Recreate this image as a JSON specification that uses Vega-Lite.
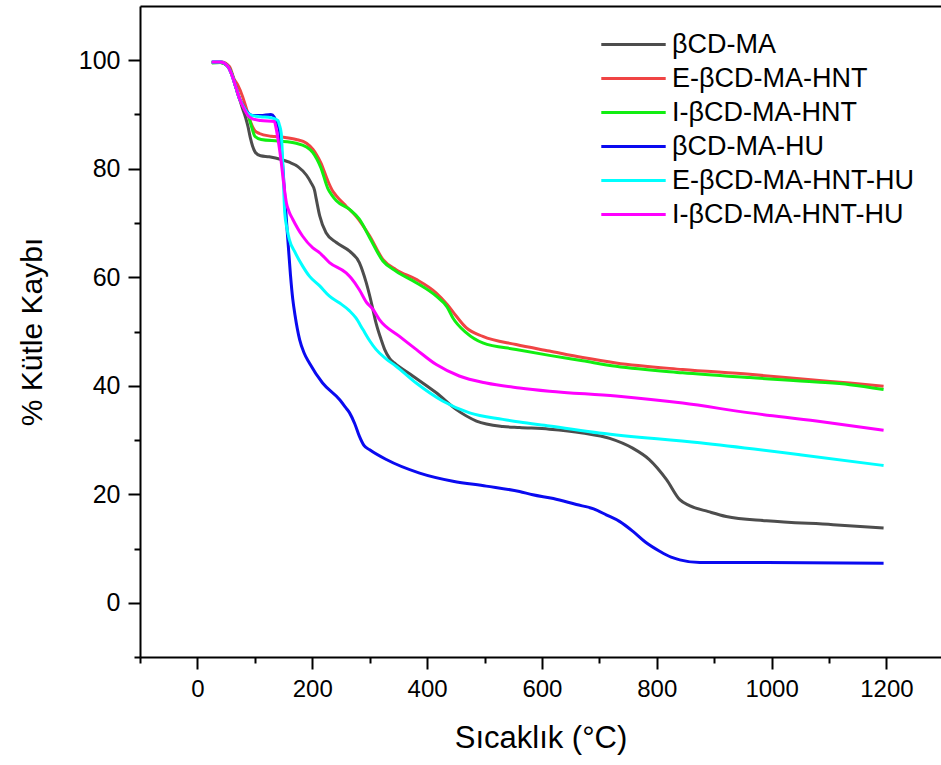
{
  "$schema": "https://vega.github.io/schema/vega-lite/v6.json",
  "width": 801,
  "height": 651,
  "autosize": {"type": "none"},
  "padding": {"left": 140, "top": 6, "right": 0, "bottom": 108},
  "background": "white",
  "config": {
    "view": {"stroke": null},
    "font": "Liberation Sans",
    "axis": {"grid": false, "domainColor": "black", "domainWidth": 2, "tickColor": "black", "tickWidth": 2, "labelColor": "black", "titleColor": "black", "labelFont": "Liberation Sans", "titleFont": "Liberation Sans", "titleFontWeight": "normal", "labelFlush": false, "labelOverlap": false}
  },
  "datasets": {
    "tga": [
      {"series": "βCD-MA", "temp": 25, "mass": 99.6},
      {"series": "βCD-MA", "temp": 40, "mass": 99.6},
      {"series": "βCD-MA", "temp": 52, "mass": 99.0},
      {"series": "βCD-MA", "temp": 60, "mass": 97.4},
      {"series": "βCD-MA", "temp": 67, "mass": 95.0},
      {"series": "βCD-MA", "temp": 73, "mass": 93.0},
      {"series": "βCD-MA", "temp": 78, "mass": 91.3},
      {"series": "βCD-MA", "temp": 84, "mass": 89.4},
      {"series": "βCD-MA", "temp": 88, "mass": 87.8},
      {"series": "βCD-MA", "temp": 92, "mass": 85.8},
      {"series": "βCD-MA", "temp": 96, "mass": 84.2},
      {"series": "βCD-MA", "temp": 101, "mass": 83.0},
      {"series": "βCD-MA", "temp": 110, "mass": 82.4},
      {"series": "βCD-MA", "temp": 125, "mass": 82.2},
      {"series": "βCD-MA", "temp": 146, "mass": 81.7},
      {"series": "βCD-MA", "temp": 160, "mass": 81.2},
      {"series": "βCD-MA", "temp": 175, "mass": 80.4},
      {"series": "βCD-MA", "temp": 190, "mass": 78.8},
      {"series": "βCD-MA", "temp": 198, "mass": 77.4},
      {"series": "βCD-MA", "temp": 204, "mass": 76.0},
      {"series": "βCD-MA", "temp": 207, "mass": 74.4},
      {"series": "βCD-MA", "temp": 213, "mass": 71.3},
      {"series": "βCD-MA", "temp": 224, "mass": 68.2},
      {"series": "βCD-MA", "temp": 242, "mass": 66.4},
      {"series": "βCD-MA", "temp": 265, "mass": 64.8},
      {"series": "βCD-MA", "temp": 282, "mass": 62.7},
      {"series": "βCD-MA", "temp": 294, "mass": 59.0},
      {"series": "βCD-MA", "temp": 303, "mass": 55.3},
      {"series": "βCD-MA", "temp": 311, "mass": 51.6},
      {"series": "βCD-MA", "temp": 320, "mass": 48.5},
      {"series": "βCD-MA", "temp": 326, "mass": 46.7},
      {"series": "βCD-MA", "temp": 335, "mass": 45.0},
      {"series": "βCD-MA", "temp": 343, "mass": 44.2},
      {"series": "βCD-MA", "temp": 375, "mass": 41.8},
      {"series": "βCD-MA", "temp": 416, "mass": 38.7},
      {"series": "βCD-MA", "temp": 451, "mass": 35.6},
      {"series": "βCD-MA", "temp": 486, "mass": 33.5},
      {"series": "βCD-MA", "temp": 532, "mass": 32.5},
      {"series": "βCD-MA", "temp": 561, "mass": 32.3},
      {"series": "βCD-MA", "temp": 613, "mass": 32.0},
      {"series": "βCD-MA", "temp": 671, "mass": 31.3},
      {"series": "βCD-MA", "temp": 718, "mass": 30.3},
      {"series": "βCD-MA", "temp": 758, "mass": 28.5},
      {"series": "βCD-MA", "temp": 787, "mass": 26.4},
      {"series": "βCD-MA", "temp": 817, "mass": 22.7},
      {"series": "βCD-MA", "temp": 840, "mass": 19.0},
      {"series": "βCD-MA", "temp": 857, "mass": 17.9},
      {"series": "βCD-MA", "temp": 890, "mass": 16.8},
      {"series": "βCD-MA", "temp": 921, "mass": 15.9},
      {"series": "βCD-MA", "temp": 991, "mass": 15.1},
      {"series": "βCD-MA", "temp": 1107, "mass": 14.4},
      {"series": "βCD-MA", "temp": 1195, "mass": 13.8},

      {"series": "E-βCD-MA-HNT", "temp": 25, "mass": 99.6},
      {"series": "E-βCD-MA-HNT", "temp": 42, "mass": 99.7},
      {"series": "E-βCD-MA-HNT", "temp": 56, "mass": 98.8},
      {"series": "E-βCD-MA-HNT", "temp": 64, "mass": 96.5},
      {"series": "E-βCD-MA-HNT", "temp": 70, "mass": 95.5},
      {"series": "E-βCD-MA-HNT", "temp": 79, "mass": 93.2},
      {"series": "E-βCD-MA-HNT", "temp": 85, "mass": 91.2},
      {"series": "E-βCD-MA-HNT", "temp": 93, "mass": 88.5},
      {"series": "E-βCD-MA-HNT", "temp": 100, "mass": 87.0},
      {"series": "E-βCD-MA-HNT", "temp": 108, "mass": 86.5},
      {"series": "E-βCD-MA-HNT", "temp": 128, "mass": 86.0},
      {"series": "E-βCD-MA-HNT", "temp": 150, "mass": 85.8},
      {"series": "E-βCD-MA-HNT", "temp": 172, "mass": 85.4},
      {"series": "E-βCD-MA-HNT", "temp": 190, "mass": 84.7},
      {"series": "E-βCD-MA-HNT", "temp": 201, "mass": 83.6},
      {"series": "E-βCD-MA-HNT", "temp": 208, "mass": 82.5},
      {"series": "E-βCD-MA-HNT", "temp": 215, "mass": 81.1},
      {"series": "E-βCD-MA-HNT", "temp": 227, "mass": 77.8},
      {"series": "E-βCD-MA-HNT", "temp": 235, "mass": 76.0},
      {"series": "E-βCD-MA-HNT", "temp": 242, "mass": 75.0},
      {"series": "E-βCD-MA-HNT", "temp": 259, "mass": 73.1},
      {"series": "E-βCD-MA-HNT", "temp": 276, "mass": 71.3},
      {"series": "E-βCD-MA-HNT", "temp": 300, "mass": 67.6},
      {"series": "E-βCD-MA-HNT", "temp": 323, "mass": 63.3},
      {"series": "E-βCD-MA-HNT", "temp": 346, "mass": 61.4},
      {"series": "E-βCD-MA-HNT", "temp": 381, "mass": 59.6},
      {"series": "E-βCD-MA-HNT", "temp": 416, "mass": 57.1},
      {"series": "E-βCD-MA-HNT", "temp": 435, "mass": 55.0},
      {"series": "E-βCD-MA-HNT", "temp": 451, "mass": 52.8},
      {"series": "E-βCD-MA-HNT", "temp": 468, "mass": 50.7},
      {"series": "E-βCD-MA-HNT", "temp": 497, "mass": 49.1},
      {"series": "E-βCD-MA-HNT", "temp": 555, "mass": 47.6},
      {"series": "E-βCD-MA-HNT", "temp": 613, "mass": 46.4},
      {"series": "E-βCD-MA-HNT", "temp": 671, "mass": 45.2},
      {"series": "E-βCD-MA-HNT", "temp": 729, "mass": 44.2},
      {"series": "E-βCD-MA-HNT", "temp": 845, "mass": 43.0},
      {"series": "E-βCD-MA-HNT", "temp": 962, "mass": 42.1},
      {"series": "E-βCD-MA-HNT", "temp": 1078, "mass": 41.0},
      {"series": "E-βCD-MA-HNT", "temp": 1136, "mass": 40.5},
      {"series": "E-βCD-MA-HNT", "temp": 1195, "mass": 39.9},

      {"series": "I-βCD-MA-HNT", "temp": 25, "mass": 99.5},
      {"series": "I-βCD-MA-HNT", "temp": 40, "mass": 99.6},
      {"series": "I-βCD-MA-HNT", "temp": 52, "mass": 99.0},
      {"series": "I-βCD-MA-HNT", "temp": 60, "mass": 97.5},
      {"series": "I-βCD-MA-HNT", "temp": 67, "mass": 95.0},
      {"series": "I-βCD-MA-HNT", "temp": 73, "mass": 93.0},
      {"series": "I-βCD-MA-HNT", "temp": 80, "mass": 91.5},
      {"series": "I-βCD-MA-HNT", "temp": 88, "mass": 90.0},
      {"series": "I-βCD-MA-HNT", "temp": 95, "mass": 87.5},
      {"series": "I-βCD-MA-HNT", "temp": 100, "mass": 86.0},
      {"series": "I-βCD-MA-HNT", "temp": 111, "mass": 85.4},
      {"series": "I-βCD-MA-HNT", "temp": 140, "mass": 85.1},
      {"series": "I-βCD-MA-HNT", "temp": 172, "mass": 84.7},
      {"series": "I-βCD-MA-HNT", "temp": 190, "mass": 84.0},
      {"series": "I-βCD-MA-HNT", "temp": 201, "mass": 83.0},
      {"series": "I-βCD-MA-HNT", "temp": 208, "mass": 81.8},
      {"series": "I-βCD-MA-HNT", "temp": 215, "mass": 80.2},
      {"series": "I-βCD-MA-HNT", "temp": 227, "mass": 76.4},
      {"series": "I-βCD-MA-HNT", "temp": 235, "mass": 75.0},
      {"series": "I-βCD-MA-HNT", "temp": 242, "mass": 74.1},
      {"series": "I-βCD-MA-HNT", "temp": 265, "mass": 72.5},
      {"series": "I-βCD-MA-HNT", "temp": 282, "mass": 70.7},
      {"series": "I-βCD-MA-HNT", "temp": 300, "mass": 67.3},
      {"series": "I-βCD-MA-HNT", "temp": 323, "mass": 63.0},
      {"series": "I-βCD-MA-HNT", "temp": 346, "mass": 61.1},
      {"series": "I-βCD-MA-HNT", "temp": 381, "mass": 59.0},
      {"series": "I-βCD-MA-HNT", "temp": 416, "mass": 56.5},
      {"series": "I-βCD-MA-HNT", "temp": 435, "mass": 54.5},
      {"series": "I-βCD-MA-HNT", "temp": 445, "mass": 52.5},
      {"series": "I-βCD-MA-HNT", "temp": 468, "mass": 49.8},
      {"series": "I-βCD-MA-HNT", "temp": 497, "mass": 47.9},
      {"series": "I-βCD-MA-HNT", "temp": 555, "mass": 46.7},
      {"series": "I-βCD-MA-HNT", "temp": 613, "mass": 45.6},
      {"series": "I-βCD-MA-HNT", "temp": 671, "mass": 44.6},
      {"series": "I-βCD-MA-HNT", "temp": 729, "mass": 43.6},
      {"series": "I-βCD-MA-HNT", "temp": 845, "mass": 42.4},
      {"series": "I-βCD-MA-HNT", "temp": 962, "mass": 41.5},
      {"series": "I-βCD-MA-HNT", "temp": 1078, "mass": 40.7},
      {"series": "I-βCD-MA-HNT", "temp": 1136, "mass": 40.2},
      {"series": "I-βCD-MA-HNT", "temp": 1195, "mass": 39.3},

      {"series": "βCD-MA-HU", "temp": 25, "mass": 99.7},
      {"series": "βCD-MA-HU", "temp": 40, "mass": 99.7},
      {"series": "βCD-MA-HU", "temp": 52, "mass": 99.0},
      {"series": "βCD-MA-HU", "temp": 60, "mass": 97.3},
      {"series": "βCD-MA-HU", "temp": 67, "mass": 95.0},
      {"series": "βCD-MA-HU", "temp": 73, "mass": 93.0},
      {"series": "βCD-MA-HU", "temp": 80, "mass": 91.5},
      {"series": "βCD-MA-HU", "temp": 88, "mass": 90.3},
      {"series": "βCD-MA-HU", "temp": 96, "mass": 89.8},
      {"series": "βCD-MA-HU", "temp": 110, "mass": 89.8},
      {"series": "βCD-MA-HU", "temp": 128, "mass": 90.0},
      {"series": "βCD-MA-HU", "temp": 134, "mass": 89.5},
      {"series": "βCD-MA-HU", "temp": 138, "mass": 88.5},
      {"series": "βCD-MA-HU", "temp": 143, "mass": 87.0},
      {"series": "βCD-MA-HU", "temp": 146, "mass": 84.0},
      {"series": "βCD-MA-HU", "temp": 149, "mass": 80.0},
      {"series": "βCD-MA-HU", "temp": 153, "mass": 73.5},
      {"series": "βCD-MA-HU", "temp": 157, "mass": 67.6},
      {"series": "βCD-MA-HU", "temp": 162, "mass": 60.5},
      {"series": "βCD-MA-HU", "temp": 166, "mass": 56.0},
      {"series": "βCD-MA-HU", "temp": 170, "mass": 53.0},
      {"series": "βCD-MA-HU", "temp": 178, "mass": 48.5},
      {"series": "βCD-MA-HU", "temp": 186, "mass": 46.0},
      {"series": "βCD-MA-HU", "temp": 195, "mass": 44.2},
      {"series": "βCD-MA-HU", "temp": 218, "mass": 40.5},
      {"series": "βCD-MA-HU", "temp": 247, "mass": 37.5},
      {"series": "βCD-MA-HU", "temp": 258, "mass": 36.0},
      {"series": "βCD-MA-HU", "temp": 265, "mass": 35.0},
      {"series": "βCD-MA-HU", "temp": 274, "mass": 33.0},
      {"series": "βCD-MA-HU", "temp": 282, "mass": 30.7},
      {"series": "βCD-MA-HU", "temp": 290, "mass": 29.0},
      {"series": "βCD-MA-HU", "temp": 300, "mass": 28.2},
      {"series": "βCD-MA-HU", "temp": 329, "mass": 26.4},
      {"series": "βCD-MA-HU", "temp": 387, "mass": 23.9},
      {"series": "βCD-MA-HU", "temp": 445, "mass": 22.4},
      {"series": "βCD-MA-HU", "temp": 503, "mass": 21.5},
      {"series": "βCD-MA-HU", "temp": 561, "mass": 20.5},
      {"series": "βCD-MA-HU", "temp": 584, "mass": 19.9},
      {"series": "βCD-MA-HU", "temp": 620, "mass": 19.2},
      {"series": "βCD-MA-HU", "temp": 660, "mass": 18.1},
      {"series": "βCD-MA-HU", "temp": 690, "mass": 17.3},
      {"series": "βCD-MA-HU", "temp": 712, "mass": 16.2},
      {"series": "βCD-MA-HU", "temp": 735, "mass": 15.0},
      {"series": "βCD-MA-HU", "temp": 758, "mass": 13.2},
      {"series": "βCD-MA-HU", "temp": 780, "mass": 11.2},
      {"series": "βCD-MA-HU", "temp": 805, "mass": 9.5},
      {"series": "βCD-MA-HU", "temp": 825, "mass": 8.4},
      {"series": "βCD-MA-HU", "temp": 840, "mass": 7.9},
      {"series": "βCD-MA-HU", "temp": 875, "mass": 7.4},
      {"series": "βCD-MA-HU", "temp": 991, "mass": 7.4},
      {"series": "βCD-MA-HU", "temp": 1195, "mass": 7.3},

      {"series": "E-βCD-MA-HNT-HU", "temp": 25, "mass": 99.7},
      {"series": "E-βCD-MA-HNT-HU", "temp": 40, "mass": 99.7},
      {"series": "E-βCD-MA-HNT-HU", "temp": 52, "mass": 99.0},
      {"series": "E-βCD-MA-HNT-HU", "temp": 60, "mass": 97.3},
      {"series": "E-βCD-MA-HNT-HU", "temp": 67, "mass": 95.0},
      {"series": "E-βCD-MA-HNT-HU", "temp": 73, "mass": 93.0},
      {"series": "E-βCD-MA-HNT-HU", "temp": 80, "mass": 91.5},
      {"series": "E-βCD-MA-HNT-HU", "temp": 88, "mass": 90.2},
      {"series": "E-βCD-MA-HNT-HU", "temp": 96, "mass": 89.8},
      {"series": "E-βCD-MA-HNT-HU", "temp": 110, "mass": 89.6},
      {"series": "E-βCD-MA-HNT-HU", "temp": 128, "mass": 89.4},
      {"series": "E-βCD-MA-HNT-HU", "temp": 140, "mass": 88.9},
      {"series": "E-βCD-MA-HNT-HU", "temp": 143, "mass": 88.0},
      {"series": "E-βCD-MA-HNT-HU", "temp": 146, "mass": 86.5},
      {"series": "E-βCD-MA-HNT-HU", "temp": 149, "mass": 80.0},
      {"series": "E-βCD-MA-HNT-HU", "temp": 152, "mass": 72.0},
      {"series": "E-βCD-MA-HNT-HU", "temp": 156, "mass": 69.0},
      {"series": "E-βCD-MA-HNT-HU", "temp": 160, "mass": 67.0},
      {"series": "E-βCD-MA-HNT-HU", "temp": 169, "mass": 64.8},
      {"series": "E-βCD-MA-HNT-HU", "temp": 183, "mass": 62.1},
      {"series": "E-βCD-MA-HNT-HU", "temp": 195, "mass": 60.2},
      {"series": "E-βCD-MA-HNT-HU", "temp": 213, "mass": 58.4},
      {"series": "E-βCD-MA-HNT-HU", "temp": 230, "mass": 56.5},
      {"series": "E-βCD-MA-HNT-HU", "temp": 247, "mass": 55.3},
      {"series": "E-βCD-MA-HNT-HU", "temp": 265, "mass": 53.8},
      {"series": "E-βCD-MA-HNT-HU", "temp": 276, "mass": 52.5},
      {"series": "E-βCD-MA-HNT-HU", "temp": 288, "mass": 50.4},
      {"series": "E-βCD-MA-HNT-HU", "temp": 300, "mass": 48.3},
      {"series": "E-βCD-MA-HNT-HU", "temp": 311, "mass": 46.7},
      {"series": "E-βCD-MA-HNT-HU", "temp": 328, "mass": 45.0},
      {"series": "E-βCD-MA-HNT-HU", "temp": 346, "mass": 43.6},
      {"series": "E-βCD-MA-HNT-HU", "temp": 381, "mass": 40.5},
      {"series": "E-βCD-MA-HNT-HU", "temp": 427, "mass": 37.2},
      {"series": "E-βCD-MA-HNT-HU", "temp": 474, "mass": 35.0},
      {"series": "E-βCD-MA-HNT-HU", "temp": 532, "mass": 33.8},
      {"series": "E-βCD-MA-HNT-HU", "temp": 561, "mass": 33.3},
      {"series": "E-βCD-MA-HNT-HU", "temp": 613, "mass": 32.6},
      {"series": "E-βCD-MA-HNT-HU", "temp": 700, "mass": 31.3},
      {"series": "E-βCD-MA-HNT-HU", "temp": 875, "mass": 29.5},
      {"series": "E-βCD-MA-HNT-HU", "temp": 1049, "mass": 27.3},
      {"series": "E-βCD-MA-HNT-HU", "temp": 1195, "mass": 25.3},

      {"series": "I-βCD-MA-HNT-HU", "temp": 25, "mass": 99.7},
      {"series": "I-βCD-MA-HNT-HU", "temp": 40, "mass": 99.7},
      {"series": "I-βCD-MA-HNT-HU", "temp": 52, "mass": 99.0},
      {"series": "I-βCD-MA-HNT-HU", "temp": 60, "mass": 97.3},
      {"series": "I-βCD-MA-HNT-HU", "temp": 67, "mass": 95.0},
      {"series": "I-βCD-MA-HNT-HU", "temp": 73, "mass": 93.0},
      {"series": "I-βCD-MA-HNT-HU", "temp": 80, "mass": 91.3},
      {"series": "I-βCD-MA-HNT-HU", "temp": 88, "mass": 89.8},
      {"series": "I-βCD-MA-HNT-HU", "temp": 96, "mass": 89.2},
      {"series": "I-βCD-MA-HNT-HU", "temp": 110, "mass": 88.9},
      {"series": "I-βCD-MA-HNT-HU", "temp": 134, "mass": 88.7},
      {"series": "I-βCD-MA-HNT-HU", "temp": 137, "mass": 87.5},
      {"series": "I-βCD-MA-HNT-HU", "temp": 141, "mass": 85.0},
      {"series": "I-βCD-MA-HNT-HU", "temp": 146, "mass": 81.2},
      {"series": "I-βCD-MA-HNT-HU", "temp": 150, "mass": 77.5},
      {"series": "I-βCD-MA-HNT-HU", "temp": 155, "mass": 73.7},
      {"series": "I-βCD-MA-HNT-HU", "temp": 160, "mass": 72.0},
      {"series": "I-βCD-MA-HNT-HU", "temp": 166, "mass": 70.7},
      {"series": "I-βCD-MA-HNT-HU", "temp": 183, "mass": 67.6},
      {"series": "I-βCD-MA-HNT-HU", "temp": 201, "mass": 65.4},
      {"series": "I-βCD-MA-HNT-HU", "temp": 213, "mass": 64.5},
      {"series": "I-βCD-MA-HNT-HU", "temp": 230, "mass": 62.7},
      {"series": "I-βCD-MA-HNT-HU", "temp": 259, "mass": 60.8},
      {"series": "I-βCD-MA-HNT-HU", "temp": 268, "mass": 59.8},
      {"series": "I-βCD-MA-HNT-HU", "temp": 282, "mass": 57.7},
      {"series": "I-βCD-MA-HNT-HU", "temp": 295, "mass": 55.3},
      {"series": "I-βCD-MA-HNT-HU", "temp": 305, "mass": 54.2},
      {"series": "I-βCD-MA-HNT-HU", "temp": 317, "mass": 52.2},
      {"series": "I-βCD-MA-HNT-HU", "temp": 352, "mass": 49.1},
      {"series": "I-βCD-MA-HNT-HU", "temp": 381, "mass": 46.7},
      {"series": "I-βCD-MA-HNT-HU", "temp": 416, "mass": 43.9},
      {"series": "I-βCD-MA-HNT-HU", "temp": 456, "mass": 41.8},
      {"series": "I-βCD-MA-HNT-HU", "temp": 503, "mass": 40.5},
      {"series": "I-βCD-MA-HNT-HU", "temp": 561, "mass": 39.6},
      {"series": "I-βCD-MA-HNT-HU", "temp": 613, "mass": 39.0},
      {"series": "I-βCD-MA-HNT-HU", "temp": 729, "mass": 38.1},
      {"series": "I-βCD-MA-HNT-HU", "temp": 845, "mass": 36.8},
      {"series": "I-βCD-MA-HNT-HU", "temp": 962, "mass": 35.0},
      {"series": "I-βCD-MA-HNT-HU", "temp": 1078, "mass": 33.5},
      {"series": "I-βCD-MA-HNT-HU", "temp": 1195, "mass": 31.8}
    ]
  },
  "data": {"name": "tga"},
  "resolve": {"axis": {"x": "independent", "y": "independent"}},
  "layer": [
    {
      "mark": {"type": "line", "strokeWidth": 3, "interpolate": "monotone", "clip": true},
      "encoding": {
        "x": {
          "field": "temp",
          "type": "quantitative",
          "scale": {"domain": [-100, 1295], "nice": false, "zero": false},
          "axis": {
            "orient": "bottom",
            "title": "Sıcaklık (°C)",
            "values": [0, 200, 400, 600, 800, 1000, 1200],
            "format": "d",
            "tickSize": 12,
            "labelFontSize": 24,
            "labelPadding": 8,
            "titleFontSize": 31,
            "titlePadding": 22
          }
        },
        "y": {
          "field": "mass",
          "type": "quantitative",
          "scale": {"domain": [-10, 110], "nice": false, "zero": false},
          "axis": {
            "orient": "left",
            "title": "% Kütle Kaybı",
            "values": [0, 20, 40, 60, 80, 100],
            "tickSize": 12,
            "labelFontSize": 25,
            "labelPadding": 8,
            "titleFontSize": 30,
            "titlePadding": 31
          }
        },
        "color": {
          "field": "series",
          "type": "nominal",
          "sort": null,
          "scale": {
            "domain": ["βCD-MA", "E-βCD-MA-HNT", "I-βCD-MA-HNT", "βCD-MA-HU", "E-βCD-MA-HNT-HU", "I-βCD-MA-HNT-HU"],
            "range": ["#4d4d4d", "#f04444", "#11ee11", "#0a0af0", "#00ffff", "#ff00ff"]
          },
          "legend": {
            "title": null,
            "orient": "none",
            "legendX": 480,
            "legendY": 25,
            "padding": 0,
            "symbolType": "M-5,0H5",
            "symbolSize": 166,
            "symbolStrokeWidth": 3,
            "labelFont": "Liberation Sans",
            "labelFontSize": 27,
            "labelColor": "black",
            "labelOffset": 25,
            "labelLimit": 400,
            "rowPadding": 6
          }
        }
      }
    },
    {
      "mark": {"type": "line", "opacity": 0},
      "encoding": {
        "x": {
          "field": "temp",
          "type": "quantitative",
          "axis": {
            "orient": "bottom",
            "title": null,
            "values": [-100, 100, 300, 500, 700, 900, 1100],
            "labels": false,
            "domain": false,
            "tickSize": 6
          }
        },
        "y": {
          "field": "mass",
          "type": "quantitative",
          "axis": {
            "orient": "left",
            "title": null,
            "values": [-10, 10, 30, 50, 70, 90],
            "labels": false,
            "domain": false,
            "tickSize": 6
          }
        },
        "detail": {"field": "series"}
      }
    },
    {
      "mark": {"type": "line", "opacity": 0},
      "encoding": {
        "x": {
          "field": "temp",
          "type": "quantitative",
          "axis": {
            "orient": "top",
            "title": null,
            "labels": false,
            "ticks": false,
            "domain": true
          }
        },
        "y": {"field": "mass", "type": "quantitative", "axis": null},
        "detail": {"field": "series"}
      }
    }
  ]
}
